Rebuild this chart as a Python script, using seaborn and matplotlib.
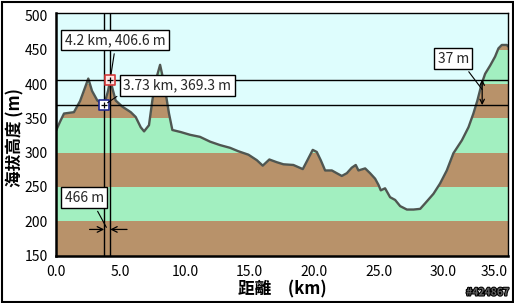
import numpy as np
import pandas as pd
import matplotlib
matplotlib.use("Agg")
import matplotlib.pyplot as plt
import matplotlib.patheffects as pe
from matplotlib.patches import Rectangle
import seaborn as sns

# ---------------- data ----------------
dist_km = [0.0, 0.31, 0.62, 1.39, 1.86, 2.25, 2.50, 2.79, 3.20, 3.73, 4.03, 4.20, 4.42,
           4.62, 5.14, 5.79, 6.17, 6.56, 6.82, 7.20, 7.46, 7.72, 8.06, 8.37, 8.75, 9.01,
           9.66, 10.38, 11.15, 11.93, 12.70, 13.48, 14.12, 14.90, 15.55, 16.01, 16.52,
           17.10, 17.61, 18.38, 19.11, 19.47, 19.88, 20.19, 20.50, 20.84, 21.36, 21.74,
           22.13, 22.52, 22.90, 23.21, 23.42, 23.94, 24.32, 24.71, 24.97, 25.15, 25.48,
           25.87, 26.26, 26.65, 27.17, 27.68, 28.20, 28.58, 29.23, 29.74, 30.26, 30.77,
           31.43, 31.94, 32.32, 32.63, 32.97, 33.23, 33.62, 34.00, 34.26, 34.52, 34.91, 35.0]
elev_m = [332, 345, 357, 359, 375, 395, 408, 390, 376, 369.3, 390, 406.6, 390,
          376, 367, 359, 352, 337, 331, 340, 376, 405, 428, 401, 357, 333,
          330, 326, 323, 316, 311, 307, 302, 297, 289, 281, 290,
          286, 283, 282, 276, 289, 304, 301, 289, 274, 274, 270,
          266, 270, 278, 282, 274, 277, 270, 262, 253, 245, 248,
          235, 231, 222, 217, 217, 218, 226, 240, 255, 274, 299,
          318, 337, 357, 376, 401, 415, 427, 440, 452, 457, 457, 455]

point_km = [4.2, 3.73]
point_m = [406.6, 369.3]
point_labels = ["4.2 km, 406.6 m", "3.73 km, 369.3 m"]
dh_label = "37 m"
dx_label = "466 m"

x_ticks = [0, 5, 10, 15, 20, 25, 30, 35]
x_tick_labels = ["0.0", "5.0", "10.0", "15.0", "20.0", "25.0", "30.0", "35.0"]
y_ticks = [150, 200, 250, 300, 350, 400, 450, 500]
band_lows = [150, 200, 250, 300, 350, 400, 450]

x_label = "距離　(km)"
y_label = "海拔高度 (m)"
watermark = "#424867"

# ---------------- style ----------------
BROWN = "#b8926a"
GREEN = "#a2efc0"
SKY = "#defdfd"
LINE = "#4f5651"

sns.set_style("white")
plt.rcParams['font.family'] = ['Noto Sans CJK TC', 'DejaVu Sans']

W, H = 514, 303
fig = plt.figure(figsize=(W / 100, H / 100), dpi=100)
fig.patch.set_facecolor("white")
ax = fig.add_axes([56 / W, (H - 255.5) / H, 452 / W, 242.5 / H])

df = pd.DataFrame({"dist": dist_km, "elev": elev_m})

for i, lo in enumerate(band_lows):
    ax.axhspan(lo, lo + 50, color=(BROWN if i % 2 == 0 else GREEN), lw=0, zorder=0)
ax.fill_between(df["dist"], df["elev"], 600, color=SKY, lw=0, zorder=1)
sns.lineplot(data=df, x="dist", y="elev", ax=ax, color=LINE, lw=1.7, sort=False, zorder=3)

ax.set_xlim(0, 35)
ax.set_ylim(150, 503.6)
ax.set_xticks(x_ticks)
ax.set_xticklabels(x_tick_labels)
ax.set_yticks(y_ticks)
ax.set_yticklabels([str(v) for v in y_ticks])
ax.set_xlabel("")
ax.set_ylabel("")
ax.tick_params(axis="both", direction="out", length=4, width=1.5, color="black",
               labelsize=10, labelcolor="black", pad=2)
ax.tick_params(axis="x", pad=3)
ax.get_xticklabels()[-1].set_horizontalalignment("right")
for side in ["left", "bottom"]:
    ax.spines[side].set_linewidth(1.8)
for side in ["top", "right"]:
    ax.spines[side].set_linewidth(1.0)
for s in ax.spines.values():
    s.set_color("black")
    s.set_zorder(10)

# reference lines
for xv in point_km:
    ax.axvline(xv, color="black", lw=1, zorder=4)
for yv in point_m:
    ax.axhline(yv, color="black", lw=1, zorder=4)

# markers
edge_cols = ["#d23a3a", "#202890"]
face_cols = ["#ffe4e4", "white"]
for xv, yv, ec, fc in zip(point_km, point_m, edge_cols, face_cols):
    ax.scatter([xv], [yv], marker="s", s=45, facecolor=fc, edgecolor=ec, linewidth=1.2, zorder=6)
    ax.scatter([xv], [yv], marker="+", s=22, color="black", linewidth=0.9, zorder=7)

box = dict(boxstyle="square,pad=0.25", fc="white", ec="black", lw=1)
# callouts for points
ax.annotate(point_labels[0], xy=(point_km[0], point_m[0]), xytext=(5, 39.5),
            textcoords="offset pixels", ha="center", va="center", fontsize=10,
            bbox=box, zorder=8,
            arrowprops=dict(arrowstyle="-", color="black", lw=0.8, relpos=(0.5, 0), shrinkB=4))
ax.annotate(point_labels[1], xy=(point_km[1], point_m[1]), xytext=(73, 20),
            textcoords="offset pixels", ha="center", va="center", fontsize=10,
            bbox=box, zorder=8,
            arrowprops=dict(arrowstyle="-", color="black", lw=0.8, relpos=(0, 0), shrinkB=3))

# vertical difference
xdh = 33.0
ax.annotate("", xy=(xdh, point_m[0]), xytext=(xdh, point_m[1]),
            arrowprops=dict(arrowstyle="<->", color="black", lw=0.9,
                            shrinkA=0, shrinkB=0, mutation_scale=8), zorder=6)
ax.annotate(dh_label, xy=(xdh, 392), xytext=(-29, 31), textcoords="offset pixels",
            ha="center", va="center", fontsize=10, bbox=box, zorder=8,
            arrowprops=dict(arrowstyle="-", color="black", lw=0.8, relpos=(0.85, 0), shrinkB=0))

# horizontal difference
ydx = 188
ax.annotate("", xy=(point_km[1], ydx), xytext=(2.6, ydx),
            arrowprops=dict(arrowstyle="->", color="black", lw=0.9, shrinkA=0, shrinkB=0,
                            mutation_scale=10), zorder=6)
ax.annotate("", xy=(point_km[0], ydx), xytext=(5.5, ydx),
            arrowprops=dict(arrowstyle="->", color="black", lw=0.9, shrinkA=0, shrinkB=0,
                            mutation_scale=10), zorder=6)
ax.annotate(dx_label, xy=(3.9, 191), xytext=(-22, 29.5), textcoords="offset pixels",
            ha="center", va="center", fontsize=10, bbox=box, zorder=8,
            arrowprops=dict(arrowstyle="-", color="black", lw=0.8, relpos=(0.75, 0), shrinkB=0))

# axis labels
fig.text(282 / W, 1 - 289 / H, x_label, ha="center", va="center", fontsize=12,
         fontweight="bold", color="black")
fig.text(15.5 / W, 1 - 137.5 / H, y_label, ha="center", va="center", fontsize=12,
         fontweight="bold", rotation=90, color="black")

# watermark
fig.text(509 / W, 1 - 292.5 / H, watermark, ha="right", va="center", fontsize=7.5,
         fontweight="bold", fontstyle="italic", color="#606060",
         path_effects=[pe.withStroke(linewidth=1.5, foreground="black")])

# figure border
fig.patches.append(Rectangle((1.5 / W, 1.5 / H), (W - 3) / W, (H - 3) / H,
                             transform=fig.transFigure, fill=False, ec="black", lw=1.5))

fig.savefig("out.png", dpi=100)
